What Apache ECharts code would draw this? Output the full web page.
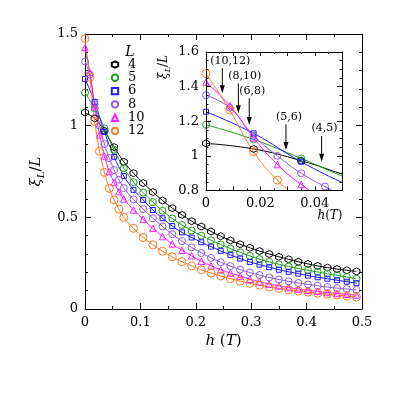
<!DOCTYPE html>
<html>
<head>
<meta charset="utf-8">
<script src="https://cdn.jsdelivr.net/npm/echarts@6/dist/echarts.min.js"></script>
<style>
  html, body { margin: 0; padding: 0; background: #fff; }
  #chart { width: 395px; height: 395px; }
</style>
</head>
<body>
<div id="chart"></div>
<script>
// field values h (T) -- small sizes sampled on a coarse grid, large ones finer near h=0
var hCoarse = [0, 0.0175, 0.035, 0.0525, 0.07, 0.0875, 0.105, 0.1225, 0.14, 0.1575, 0.175, 0.1925, 0.21, 0.2275, 0.245,
  0.2625, 0.28, 0.2975, 0.315, 0.3325, 0.35, 0.3675, 0.385, 0.4025, 0.42, 0.4375, 0.455, 0.4725, 0.49]
var hFine = [0, 0.00875, 0.0175, 0.02625, 0.035, 0.04375, 0.0525, 0.06125, 0.07, 0.0875, 0.105, 0.1225, 0.14, 0.1575,
  0.175, 0.1925, 0.21, 0.2275, 0.245, 0.2625, 0.28, 0.2975, 0.315, 0.3325, 0.35, 0.3675, 0.385, 0.4025, 0.42, 0.4375,
  0.455, 0.4725, 0.49]

// xi_L / L for each system size
var xi4 = [1.072, 1.04, 0.972, 0.883, 0.803, 0.741, 0.687, 0.638, 0.592, 0.550, 0.513, 0.479, 0.450, 0.423, 0.397,
  0.374, 0.353, 0.334, 0.316, 0.300, 0.285, 0.271, 0.258, 0.246, 0.235, 0.226, 0.218, 0.211, 0.205]
var xi5 = [1.18, 1.095, 0.985, 0.868, 0.768, 0.692, 0.635, 0.583, 0.535, 0.494, 0.458, 0.428, 0.400, 0.375, 0.352,
  0.330, 0.309, 0.290, 0.272, 0.257, 0.244, 0.232, 0.221, 0.211, 0.202, 0.193, 0.184, 0.175, 0.165]
var xi6 = [1.255, 1.13, 0.966, 0.83, 0.725, 0.65, 0.595, 0.54, 0.495, 0.452, 0.418, 0.39, 0.364, 0.34, 0.317,
  0.295, 0.275, 0.257, 0.242, 0.228, 0.214, 0.203, 0.193, 0.182, 0.173, 0.165, 0.157, 0.149, 0.141]
var xi8 = [1.35, 1.278, 1.117, 1.0, 0.90, 0.823, 0.758, 0.705, 0.66, 0.598, 0.545, 0.495, 0.45, 0.408, 0.37, 0.336,
  0.306, 0.279, 0.255, 0.234, 0.215, 0.199, 0.185, 0.172, 0.161, 0.151, 0.142, 0.134, 0.127, 0.12, 0.114, 0.109, 0.104]
var xi10 = [1.426, 1.29, 1.104, 0.95, 0.835, 0.75, 0.69, 0.64, 0.60, 0.54, 0.49, 0.44, 0.395, 0.355, 0.32, 0.29, 0.26,
  0.236, 0.214, 0.196, 0.18, 0.163, 0.149, 0.136, 0.126, 0.117, 0.109, 0.102, 0.096, 0.09, 0.085, 0.08, 0.076]
var xi12 = [1.475, 1.264, 1.024, 0.86, 0.745, 0.658, 0.595, 0.545, 0.50, 0.44, 0.39, 0.35, 0.315, 0.285, 0.258, 0.235,
  0.214, 0.196, 0.18, 0.165, 0.152, 0.14, 0.13, 0.12, 0.112, 0.105, 0.098, 0.092, 0.086, 0.081, 0.076, 0.07, 0.065]

var sizeNames = ['4', '5', '6', '8', '10', '12']
var seriesH = [hCoarse, hCoarse, hCoarse, hFine, hFine, hFine]
var seriesXi = [xi4, xi5, xi6, xi8, xi10, xi12]

// crossing annotations in the inset (h, arrow top, arrow tip)
var crossLabels = ['(10,12)', '(8,10)', '(6,8)', '(5,6)', '(4,5)']
var crossH = [0.006, 0.0119, 0.0159, 0.0294, 0.0425]
var crossTop = [1.506, 1.419, 1.333, 1.182, 1.115]
var crossTip = [1.362, 1.246, 1.178, 1.034, 0.966]

var SERIF = 'DejaVu Serif'
var hexagon = 'path://M0,-1L0.866,-0.5L0.866,0.5L0,1L-0.866,0.5L-0.866,-0.5Z'
var styles = [
  { color: '#000000', symbol: hexagon, size: 7 },
  { color: '#1f9a1f', symbol: 'circle', size: 7 },
  { color: '#1a1aff', symbol: 'rect', size: 5 },
  { color: '#8a5fd8', symbol: 'circle', size: 7 },
  { color: '#ff1cff', symbol: 'triangle', size: 6.5 },
  { color: '#ff7a26', symbol: 'circle', size: 8 }
]

function makeSeries(i, inset) {
  var st = styles[i]
  var hs = seriesH[i]
  var ys = seriesXi[i]
  return {
    name: sizeNames[i],
    type: 'line',
    xAxisIndex: inset ? 2 : 0,
    yAxisIndex: inset ? 2 : 0,
    data: hs.map(function(h, k) { return [h, ys[k]] }),
    smooth: inset ? 0.45 : 0.3,
    symbol: st.symbol,
    symbolSize: st.size,
    showAllSymbol: true,
    clip: true,
    lineStyle: { color: st.color, width: 1 },
    itemStyle: { color: 'rgba(255,255,255,0)', borderColor: st.color, borderWidth: 1 },
    emphasis: { disabled: true },
    z: inset ? 11 : 2
  }
}

function frameAxis(base, extra) {
  return Object.assign({
    type: 'value',
    axisLine: { onZero: false, lineStyle: { color: '#000', width: 1 } },
    axisTick: { inside: true, length: 6, lineStyle: { color: '#000' } },
    minorTick: { show: true, length: 3, lineStyle: { color: '#000' } },
    splitLine: { show: false },
    minorSplitLine: { show: false },
    axisLabel: { color: '#000', fontFamily: SERIF, fontSize: 13, margin: 7 }
  }, base, extra)
}

var nameRich = {
  i: { fontFamily: SERIF, fontStyle: 'italic', fontSize: 15, color: '#000', verticalAlign: 'bottom', padding: [0, 0, 3, 0] },
  n: { fontFamily: SERIF, fontSize: 15, color: '#000', verticalAlign: 'bottom', padding: [0, 0, 3, 0] },
  s: { fontFamily: SERIF, fontStyle: 'italic', fontSize: 10, color: '#000', verticalAlign: 'bottom' }
}
var smallRich = {
  i: { fontFamily: SERIF, fontStyle: 'italic', fontSize: 12, fill: '#000', verticalAlign: 'bottom', padding: [0, 0, 2, 0] },
  n: { fontFamily: SERIF, fontSize: 12, fill: '#000', verticalAlign: 'bottom', padding: [0, 0, 2, 0] },
  s: { fontFamily: SERIF, fontStyle: 'italic', fontSize: 8, fill: '#000', verticalAlign: 'bottom' }
}

var mainX = { gridIndex: 0, min: 0, max: 0.5, interval: 0.1, minorTick: { show: true, splitNumber: 2, length: 3, lineStyle: { color: '#000' } } }
var mainY = { gridIndex: 0, min: 0, max: 1.5, interval: 0.5, minorTick: { show: true, splitNumber: 5, length: 3, lineStyle: { color: '#000' } } }
var insetX = { gridIndex: 1, min: 0, max: 0.05, interval: 0.01, z: 12,
  axisTick: { inside: true, length: 4, lineStyle: { color: '#000' } },
  minorTick: { show: true, splitNumber: 2, length: 2, lineStyle: { color: '#000' } } }
var insetY = { gridIndex: 1, min: 0.8, max: 1.6, interval: 0.2, z: 12,
  axisTick: { inside: true, length: 5, lineStyle: { color: '#000' } },
  minorTick: { show: true, splitNumber: 4, length: 2.5, lineStyle: { color: '#000' } } }

var series = []
for (var i = 0; i < 6; i++) series.push(makeSeries(i, false))
for (var j = 0; j < 6; j++) series.push(makeSeries(j, true))

// arrows pointing at the crossings of neighbouring sizes
series.push({
  type: 'custom',
  xAxisIndex: 2,
  yAxisIndex: 2,
  z: 13,
  silent: true,
  clip: false,
  data: crossH.map(function(h, k) { return [h, crossTop[k], crossTip[k], k] }),
  encode: { x: 0, y: [1, 2] },
  renderItem: function(params, api) {
    var top = api.coord([api.value(0), api.value(1)])
    var tip = api.coord([api.value(0), api.value(2)])
    var k = api.value(3)
    var dx = k < 2 ? 8 - 1.5 * k : 3
    return {
      type: 'group',
      children: [
        { type: 'line', shape: { x1: top[0], y1: top[1], x2: tip[0], y2: tip[1] - 6 }, style: { stroke: '#000', lineWidth: 1 } },
        { type: 'polygon', shape: { points: [[tip[0] - 2.5, tip[1] - 8], [tip[0] + 2.5, tip[1] - 8], [tip[0], tip[1]]] }, style: { fill: '#000' } },
        { type: 'text', x: top[0] + dx, y: top[1] - 2,
          style: { text: crossLabels[k], fill: '#000', font: '11px "DejaVu Serif"', align: 'center', verticalAlign: 'bottom' } }
      ]
    }
  }
})

var option = {
  animation: false,
  backgroundColor: '#fff',
  grid: [
    { left: 85, top: 34, width: 277, height: 275, outerBoundsMode: 'none' },
    { left: 206, top: 52, width: 136, height: 138.5, outerBoundsMode: 'none' }
  ],
  legend: {
    orient: 'vertical',
    left: 106,
    top: 58,
    itemWidth: 16,
    itemHeight: 8,
    itemGap: 0.3,
    padding: 0,
    data: sizeNames,
    selectedMode: false,
    lineStyle: { opacity: 0 },
    textStyle: { color: '#000', fontFamily: SERIF, fontSize: 13, lineHeight: 12 }
  },
  xAxis: [
    frameAxis(mainX, { position: 'bottom', name: '{i|h}{n| (}{i|T}{n|)}', nameLocation: 'middle', nameGap: 25,
      nameTextStyle: { rich: nameRich } }),
    frameAxis(mainX, { position: 'top', axisLabel: { show: false } }),
    frameAxis(insetX, { position: 'bottom', axisLabel: { color: '#000', fontFamily: SERIF, fontSize: 13, margin: 7,
      showMaxLabel: false,
      formatter: function(v) {
        var k = Math.round(v * 100)
        if (k === 0) return '0'
        return k % 2 === 0 ? v.toFixed(2) : ''
      } } }),
    frameAxis(insetX, { position: 'top', axisLabel: { show: false } })
  ],
  yAxis: [
    frameAxis(mainY, { position: 'left', name: '{i|ξ}{s|L}{n|/}{i|L}', nameLocation: 'middle', nameGap: 33,
      nameTextStyle: { rich: nameRich } }),
    frameAxis(mainY, { position: 'right', axisLabel: { show: false } }),
    frameAxis(insetY, { position: 'left' }),
    frameAxis(insetY, { position: 'right', axisLabel: { show: false } })
  ],
  graphic: [
    { type: 'rect', z: 10, silent: true, shape: { x: 206, y: 52, width: 136, height: 138.5 }, style: { fill: '#fff' } },
    { type: 'text', x: 130, y: 52, silent: true,
      style: { text: 'L', fill: '#000', font: 'italic 14px "DejaVu Serif"', align: 'center', verticalAlign: 'middle' } },
    { type: 'text', x: 330, y: 217, z: 12, silent: true,
      style: { text: '{i|h}{n|(}{i|T}{n|)}', rich: smallRich, align: 'center', verticalAlign: 'middle' } },
    { type: 'text', x: 165, y: 67, z: 12, rotation: Math.PI / 2, silent: true,
      style: { text: '{i|ξ}{s|L}{n|/}{i|L}', rich: smallRich, align: 'center', verticalAlign: 'middle' } }
  ],
  series: series
}

var myChart = echarts.init(document.getElementById('chart'))
myChart.setOption(option)
</script>
</body>
</html>
